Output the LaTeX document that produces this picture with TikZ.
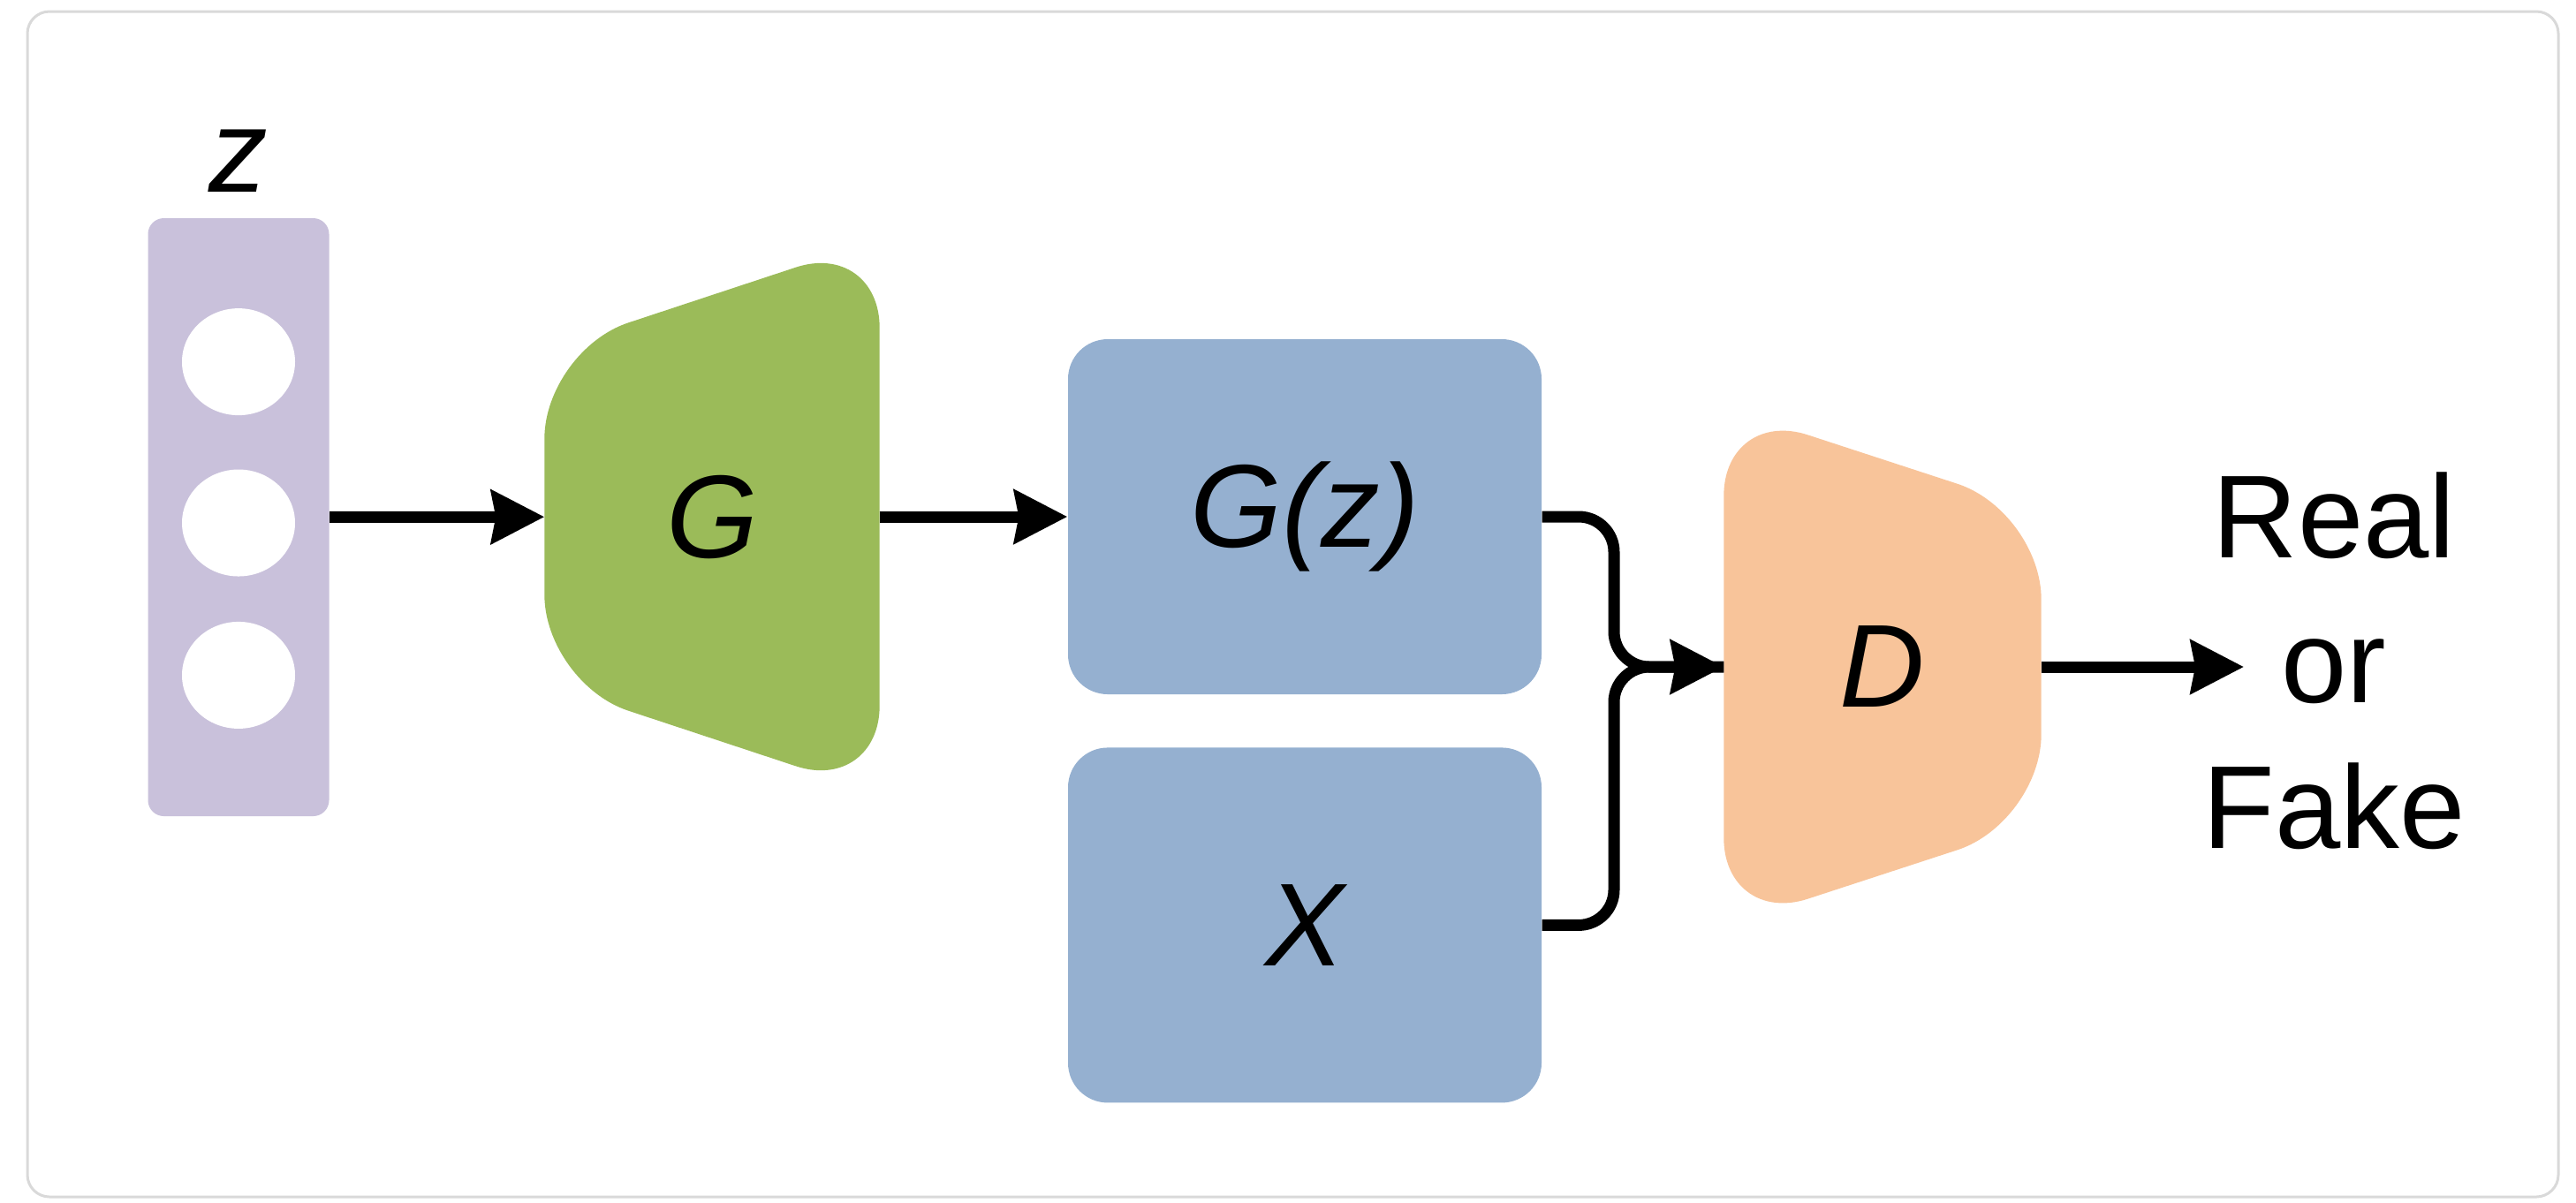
\documentclass[tikz,border=0pt]{standalone}
\usepackage{fontspec}
\setmainfont{Liberation Sans}
\usetikzlibrary{calc,positioning,arrows.meta,shapes.geometric,backgrounds}

\definecolor{latentpurple}{HTML}{C9C1DB}
\definecolor{gengreen}{HTML}{9BBB59}
\definecolor{sampleblue}{HTML}{95B0D0}
\definecolor{discorange}{HTML}{F8C49A}
\newcommand{\bigfont}{\fontsize{38}{46.8}\selectfont}

\tikzset{
>={Stealth[length=0.6cm,width=0.6cm,inset=0.05cm]},
  card/.style={fill=white, draw=black!15, line width=0.03cm, rounded corners=0.25cm},
  latent/.style={
    rectangle,
    rounded corners=0.18cm,
    fill=latentpurple,
    minimum width=2.05cm,
    minimum height=6.77cm},
  unit/.style={ellipse, fill=white, inner sep=0pt,
    minimum width=1.28cm, minimum height=1.21cm},
  network/.style={rectangle, inner sep=0pt, font=\bigfont\itshape},
  sample/.style={
    rectangle,
    rounded corners=0.45cm,
    fill=sampleblue,
    minimum width=5.36cm,
    minimum height=4.02cm,
    font=\bigfont\itshape},
  line/.style={draw, line width=0.13cm, ->},
  wire/.style={draw, line width=0.13cm, rounded corners=0.4cm},
  verdict/.style={font=\bigfont, align=center, inner sep=0pt},
}

\begin{document}
\begin{tikzpicture}
\useasboundingbox (0,0) rectangle (29.16,-13.61);

% latent vector z
\node[latent] (zvec) at (2.70,-5.855) {};
\node[unit] (u2) at (2.70,-5.92) {};
\node[unit, above=0.60cm of u2] (u1) {};
\node[unit, below=0.50cm of u2] (u3) {};
\node[network, anchor=base] (zlabel) at (2.70,-2.17) {z};

\node[network, minimum width=3.78cm, minimum height=6.26cm] (gen) at (8.06,-5.85) {G};
\node[sample] (gz) at (14.77,-5.85) {G(z)};
\node[sample, below=0.59cm of gz] (real) {X};
\node[network, minimum width=3.58cm, minimum height=5.86cm] (disc) at (21.31,-7.55) {D};
\node[verdict] (result) at (26.42,-7.48) {Real\\or\\Fake};

\coordinate (merge) at (18.27,-7.55);
\coordinate (outtip) at (25.40,-7.55);

\draw[line] (zvec) -- (gen);
\draw[line] (gen) -- (gz);
\draw[wire, ->] (gz.east) -| (merge) -- (disc.west);
\draw[wire] (real.east) -| (merge) -- (disc.west);
\draw[line] (disc.east) -- (outtip);

\begin{scope}[on background layer]
  \draw[card] (0.31,-0.13) rectangle (28.96,-13.55);
  \fill[gengreen, rounded corners=1.0cm]
    ($(gen.north west)!0.2!(gen.south west)$) -- (gen.north east)
    -- (gen.south east) -- ($(gen.south west)!0.2!(gen.north west)$) -- cycle;
  \fill[discorange, rounded corners=1.0cm]
    (disc.north west) -- ($(disc.north east)!0.2!(disc.south east)$)
    -- ($(disc.south east)!0.2!(disc.north east)$) -- (disc.south west) -- cycle;
\end{scope}
\end{tikzpicture}
\end{document}
